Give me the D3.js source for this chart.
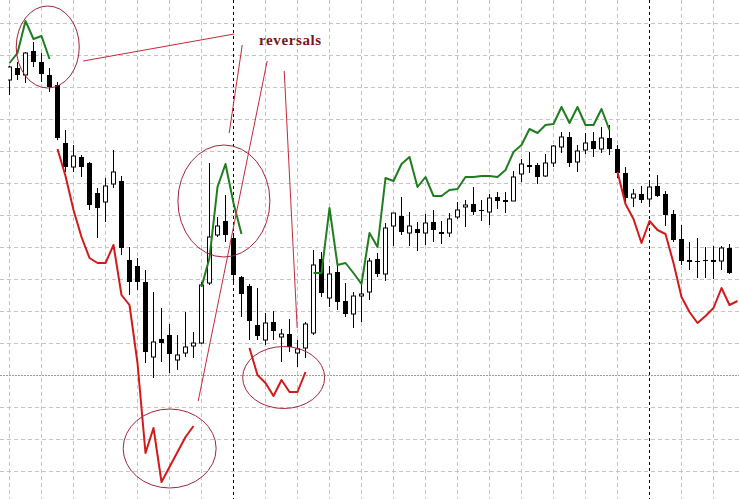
<!DOCTYPE html>
<html><head><meta charset="utf-8">
<script src="https://cdn.jsdelivr.net/npm/d3@7"></script>
<style>html,body{margin:0;padding:0;background:#fff;overflow:hidden}</style>
</head><body>
<svg id="chart" width="739" height="499"></svg>
<script>
// ---- data (price units, one entry per bar) ----
const openP  = [1.420,1.432,1.425,1.449,1.438,1.425,1.415,1.357,1.333,1.343,
                1.337,1.307,1.298,1.316,1.319,1.240,1.234,1.218,1.143,1.161,
                1.165,1.140,1.147,1.154,1.157,1.217,1.265,1.279,1.262,1.223,
                1.214,1.175,1.160,1.178,1.163,1.166,1.147,1.152,1.167,1.241,
                1.202,1.228,1.199,1.186,1.204,1.208,1.241,1.226,1.274,1.284,
                1.267,1.271,1.267,1.278,1.268,1.267,1.283,1.293,1.296,1.290,
                1.288,1.303,1.300,1.299,1.326,1.335,1.335,1.324,1.337,1.353,
                1.363,1.338,1.350,1.359,1.351,1.362,1.351,1.327,1.302,1.306,
                1.301,1.314,1.306,1.286,1.261,1.240,1.239,1.240,1.240,1.239,1.252];
const highP  = [1.434,1.438,1.448,1.458,1.447,1.432,1.418,1.370,1.355,1.345,
                1.338,1.312,1.322,1.350,1.324,1.253,1.242,1.230,1.208,1.192,
                1.176,1.165,1.188,1.168,1.218,1.337,1.283,1.305,1.267,1.224,
                1.216,1.212,1.187,1.189,1.171,1.181,1.160,1.178,1.250,1.248,
                1.234,1.235,1.217,1.208,1.218,1.242,1.247,1.277,1.287,1.303,
                1.288,1.278,1.286,1.290,1.279,1.287,1.298,1.300,1.313,1.300,
                1.306,1.308,1.308,1.329,1.341,1.348,1.337,1.346,1.355,1.368,
                1.368,1.355,1.367,1.368,1.373,1.375,1.355,1.333,1.311,1.314,
                1.318,1.325,1.309,1.290,1.275,1.258,1.262,1.253,1.254,1.254,1.256];
const lowP   = [1.405,1.420,1.417,1.433,1.418,1.408,1.360,1.328,1.328,1.323,
                1.290,1.262,1.278,1.312,1.245,1.205,1.210,1.137,1.122,1.138,
                1.127,1.130,1.143,1.142,1.156,1.215,1.263,1.258,1.218,1.183,
                1.160,1.160,1.155,1.160,1.138,1.148,1.133,1.142,1.165,1.203,
                1.193,1.190,1.183,1.172,1.178,1.200,1.223,1.219,1.254,1.265,
                1.254,1.249,1.255,1.258,1.256,1.263,1.281,1.273,1.285,1.279,
                1.275,1.291,1.287,1.299,1.318,1.327,1.316,1.323,1.333,1.347,
                1.333,1.328,1.346,1.343,1.347,1.345,1.322,1.298,1.293,1.297,
                1.295,1.303,1.274,1.258,1.235,1.230,1.222,1.222,1.221,1.230,1.226];
const closeP = [1.433,1.425,1.447,1.438,1.426,1.413,1.362,1.333,1.344,1.333,
                1.295,1.292,1.314,1.328,1.252,1.218,1.218,1.148,1.158,1.157,
                1.146,1.145,1.153,1.157,1.215,1.263,1.274,1.265,1.225,1.206,
                1.179,1.164,1.177,1.169,1.166,1.153,1.151,1.176,1.235,1.207,
                1.226,1.198,1.186,1.204,1.206,1.239,1.226,1.272,1.287,1.268,
                1.274,1.267,1.277,1.270,1.266,1.281,1.290,1.295,1.288,1.289,
                1.302,1.299,1.298,1.323,1.336,1.333,1.323,1.337,1.354,1.363,
                1.337,1.349,1.357,1.351,1.362,1.351,1.327,1.302,1.306,1.300,
                1.313,1.304,1.285,1.260,1.239,1.238,1.238,1.239,1.238,1.252,1.227];

// indicator: upper (green) and lower (red) lines, null where not drawn
const N = 92;
const greenIdx = [0,1,2,3,4,5, 24,25,26,27,28,29,
  38,39,40,41,42,43,44,45,46,47,48,49,50,51,52,53,54,55,56,57,58,59,60,61,62,63,64,65,66,67,68,69,70,71,72,73,74,75];
const greenVal = [1.437,1.447,1.479,1.461,1.464,1.441, 1.213,1.242,1.313,1.336,1.297,1.266,
  1.227,1.227,1.292,1.235,1.237,1.227,1.216,1.267,1.253,1.322,1.319,1.336,1.343,1.313,1.323,1.304,1.304,1.310,
  1.311,1.323,1.323,1.324,1.324,1.323,1.330,1.348,1.355,1.371,1.367,1.375,1.376,1.393,1.377,1.393,1.375,1.375,1.391,1.370];
const redIdx = [6,7,8,9,10,11,12,13,14,15,16,17,18,19,20,21,22,23,
  30,31,32,33,34,35,36,37,
  76,77,78,79,80,81,82,83,84,85,86,87,88,89,90,91];
const redVal = [1.351,1.324,1.290,1.263,1.242,1.237,1.237,1.255,1.205,1.195,1.137,1.047,1.072,1.018,1.033,1.048,1.063,1.074,
  1.152,1.125,1.117,1.104,1.120,1.108,1.108,1.128,
  1.328,1.296,1.281,1.257,1.279,1.270,1.266,1.237,1.203,1.188,1.177,1.184,1.192,1.212,1.195,1.199];

// annotation (in data space: bar index, price)
const labelText = "reversals";
const labelPos = [31.2, 1.455];
const ellipses = [ // [centre index, centre price, radius in bars, radius in price]
  [4.78, 1.453, 3.94, 0.041],
  [26.8, 1.299, 5.75, 0.056],
  [20.02, 1.0515, 5.81, 0.0395],
  [34.27, 1.1225, 5.125, 0.031]
];
const pointers = [ // [i1, p1, i2, p2]
  [9.21, 1.439, 28.09, 1.466],
  [29.09, 1.455, 27.46, 1.367],
  [32.21, 1.439, 23.59, 1.099],
  [34.34, 1.429, 35.96, 1.172]
];
const specialBars = [28, 80];

// ---- drawing ----
const W = 739, H = 499;
const svg = d3.select("#chart");
const x = d3.scaleLinear().domain([0, 90]).range([9.5, 729.5]);
const y = d3.scaleLinear().domain([1.001, 1.5]).range([499, 0]);
const crisp = v => Math.round(v - 0.5) + 0.5;

svg.append("rect").attr("width", W).attr("height", H).attr("fill", "#fff");

// grid
const hGrid = d3.range(0, 15).map(k => 1.4765 - 0.032 * k);
const vGrid = d3.range(0, 92, 4);
const g = svg.append("g");
g.selectAll("line.h").data(hGrid).join("line")
  .attr("x1", 0).attr("x2", W)
  .attr("y1", d => crisp(y(d))).attr("y2", d => crisp(y(d)))
  .attr("stroke", (d, i) => i === 11 ? "#9a9a9a" : "#c4c4c4")
  .attr("stroke-dasharray", (d, i) => i === 11 ? "2,1" : "4,3")
  .attr("stroke-width", 1);
g.selectAll("line.v").data(vGrid.filter(v => !specialBars.includes(v))).join("line")
  .attr("y1", 0).attr("y2", H)
  .attr("x1", d => x(d)).attr("x2", d => x(d))
  .attr("stroke", "#c4c4c4").attr("stroke-dasharray", "4,3");
g.selectAll("line.s").data(specialBars).join("line")
  .attr("y1", 0).attr("y2", H)
  .attr("x1", d => x(d)).attr("x2", d => x(d))
  .attr("stroke", "#000").attr("stroke-dasharray", "3,3");

// clip
svg.append("clipPath").attr("id", "plot").append("rect")
  .attr("x", 8).attr("y", 0).attr("width", W - 8).attr("height", H);
const plot = svg.append("g").attr("clip-path", "url(#plot)");

// candles
const bars = openP.map((o, i) => ({i, o, h: highP[i], l: lowP[i], c: closeP[i]}));
const cg = plot.append("g");
cg.selectAll("line.w").data(bars).join("line")
  .attr("x1", d => x(d.i)).attr("x2", d => x(d.i))
  .attr("y1", d => y(d.h)).attr("y2", d => y(d.l))
  .attr("stroke", "#000").attr("stroke-width", 1);
cg.selectAll("rect.b").data(bars).join("rect")
  .attr("x", d => d.c >= d.o ? x(d.i) - 2 : x(d.i) - 2.5)
  .attr("width", d => d.c >= d.o ? 4 : 5)
  .attr("y", d => y(Math.max(d.o, d.c)))
  .attr("height", d => Math.max(1, Math.abs(y(d.o) - y(d.c))))
  .attr("fill", d => d.c >= d.o ? "#fff" : "#000")
  .attr("stroke", d => d.c >= d.o ? "#000" : "none")
  .attr("stroke-width", 1);

// indicator lines
function series(idx, val) {
  const arr = new Array(N).fill(null);
  idx.forEach((k, j) => arr[k] = val[j]);
  return arr;
}
const lineGen = d3.line().defined(d => d != null).x((d, i) => x(i)).y(d => y(d));
plot.append("path").datum(series(greenIdx, greenVal))
  .attr("d", lineGen).attr("fill", "none")
  .attr("stroke", "#1f7d1f").attr("stroke-width", 2).attr("stroke-linejoin", "round");
plot.append("path").datum(series(redIdx, redVal))
  .attr("d", lineGen).attr("fill", "none")
  .attr("stroke", "#d31a1a").attr("stroke-width", 2).attr("stroke-linejoin", "round");

// annotations
const pxPerBar = x(1) - x(0);
const pxPerPrice = y(0) - y(1);
svg.selectAll("ellipse").data(ellipses).join("ellipse")
  .attr("cx", d => x(d[0])).attr("cy", d => y(d[1]))
  .attr("rx", d => d[2] * pxPerBar).attr("ry", d => d[3] * pxPerPrice)
  .attr("fill", "none").attr("stroke", "#a4243a").attr("stroke-width", 1);
svg.selectAll("line.p").data(pointers).join("line")
  .attr("x1", d => x(d[0])).attr("y1", d => y(d[1]))
  .attr("x2", d => x(d[2])).attr("y2", d => y(d[3]))
  .attr("stroke", "#c42a3a").attr("stroke-width", 1);
svg.append("text").attr("x", x(labelPos[0])).attr("y", y(labelPos[1]))
  .attr("font-family", "'Liberation Serif', 'DejaVu Serif', serif")
  .attr("font-weight", "bold").attr("font-size", 15)
  .attr("letter-spacing", 0.6)
  .attr("fill", "#7a1424").text(labelText);
</script>
</body></html>
